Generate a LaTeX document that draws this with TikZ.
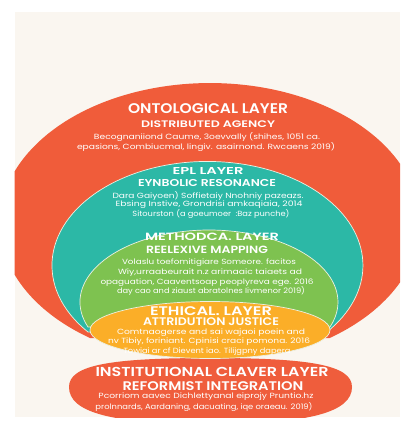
\documentclass[tikz,border=0pt]{standalone}
\usepackage{fontspec}
\usepackage{graphicx}
\setmainfont{Poppins}[BoldFont={Poppins SemiBold}]
\definecolor{redc}{RGB}{240,92,58}
\definecolor{tealc}{RGB}{44,184,166}
\definecolor{greenc}{RGB}{126,194,80}
\definecolor{orangec}{RGB}{251,174,40}
\definecolor{instc}{RGB}{239,93,60}
\definecolor{creamc}{RGB}{250,246,240}
\definecolor{edgec}{RGB}{236,240,225}
\newsavebox\fitbox
\newcommand\fitw[2]{\sbox\fitbox{#2}\pgfmathsetmacro\fitfac{#1/\the\wd\fitbox}\scalebox{\fitfac}[1]{\usebox\fitbox}}
\tikzset{
  ttl/.style={text=white, inner sep=0pt, anchor=center},
  bod/.style={text=white, inner sep=0pt, anchor=center, font=\fontsize{7.5}{9}\selectfont},
  band/.style={draw=edgec, line width=0.7pt},
}
\begin{document}
\begin{tikzpicture}[x=1pt,y=-1pt]
\useasboundingbox (0,0) rectangle (414,432);
\fill[white] (0,0) rectangle (414,432);
\fill[creamc] (14.5,12) rectangle (400,417);
\begin{scope}
\clip (14.5,12) rectangle (400,417);
\fill[redc] (90,338) arc[start angle=124.8, end angle=415.2, x radius=210, y radius=140] -- cycle;
\fill[instc] (69,387) .. controls (69,365) and (110,358) .. (210,358)
  .. controls (310,358) and (352,365) .. (352,387)
  .. controls (352,412) and (310,424) .. (210,424)
  .. controls (110,424) and (69,412) .. (69,387) -- cycle;
\end{scope}
\filldraw[tealc, band] (88,332) arc[start angle=140.2, end angle=399.8, x radius=155.5, y radius=104] -- cycle;
\filldraw[greenc, band] (88,327) arc[start angle=159.7, end angle=380.3, x radius=129, y radius=72] -- cycle;
\filldraw[orangec, band] (210,330) ellipse[x radius=120, y radius=28.5];

% Ontological
\node[ttl, font=\bfseries\fontsize{14}{16}\selectfont] (ot) at (208,109) {\fitw{160}{ONTOLOGICAL LAYER}};
\node[ttl, font=\bfseries\fontsize{9.5}{11}\selectfont] (os) at (208,124) {\fitw{134}{DISTRIBUTED AGENCY}};
\node[bod] (o1) at (207,137) {\fitw{226}{Becognaniiond Caume, 3oevvally (shihes, 1051 ca.}};
\node[bod] (o2) at (206,147) {\fitw{258}{epasions, Combiucmal, lingiv. asairnond. Rwcaens 2019)}};
% EPL
\node[ttl, font=\bfseries\fontsize{10}{12}\selectfont] (et) at (208,171.5) {\fitw{71}{EPL LAYER}};
\node[ttl, font=\bfseries\fontsize{10}{12}\selectfont] (es) at (207,182.5) {\fitw{138}{EYNBOLIC RESONANCE}};
\node[bod] (e1) at (208,196) {\fitw{191}{Dara Gaiyoen) Soffietaiy Nnohniy pazeazs.}};
\node[bod] (e2) at (209,205) {\fitw{187}{Ebsing Instive, Grondrisi amkaqiaia, 2014}};
\node[bod] (e3) at (211,214) {\fitw{157}{Sitourston (a goeumoer\ \ :Baz punche)}};
% Methodical
\node[ttl, font=\bfseries\fontsize{10.5}{12}\selectfont] (mt) at (212,237) {\fitw{134}{METHODCA. LAYER}};
\node[ttl, font=\bfseries\fontsize{10.5}{12}\selectfont] (ms) at (207,250) {\fitw{122}{REELEXIVE MAPPING}};
\node[bod] (m1) at (209,263) {\fitw{174}{Volaslu toefomitigiare Someore. facitos}};
\node[bod] (m2) at (210,273) {\fitw{184}{Wiy,urraabeurait n.z arimaaic taiaets ad}};
\node[bod] (m3) at (207,283) {\fitw{213}{opaguation, Caaventsoap peoplyreva ege. 2016}};
\node[bod] (m4) at (211,291) {\fitw{188}{day cao and ziaust abratolnes Iivmenor 2019)}};
% Ethical
\node[ttl, font=\bfseries\fontsize{12.5}{14}\selectfont] (tt) at (211,311) {\fitw{122}{ETHICAL. LAYER}};
\node[ttl, font=\bfseries\fontsize{11}{13}\selectfont] (ts) at (211,322) {\fitw{136}{ATTRIDUTION JUSTICE}};
\node[bod] (t1) at (211,333) {\fitw{188}{Comtnaogerse and sai wajaoi poein and}};
\node[bod] (t2) at (209,342) {\fitw{202}{nv Tibiy, foriniant. Cpinisi craci pomona. 2016}};
\node[bod] (t3) at (207,351.5) {\fitw{167}{Towiai ar cf Dievent iao. Tilijgpny dapera}};
% Institutional
\node[ttl, font=\bfseries\fontsize{13}{15}\selectfont] (it) at (212,372) {\fitw{233}{INSTITUTIONAL CLAVER LAYER}};
\node[ttl, font=\bfseries\fontsize{12.5}{14}\selectfont] (is) at (213,386) {\fitw{181}{REFORMIST INTEGRATION}};
\node[bod] (i1) at (206,397) {\fitw{215}{Pcorriom aavec Dichlettyanal eiprojy Pruntio.hz}};
\node[bod] (i2) at (204,407) {\fitw{217}{prolnnards, Aardaning, dacuating, iqe oraeau. 2019)}};
\end{tikzpicture}
\end{document}
